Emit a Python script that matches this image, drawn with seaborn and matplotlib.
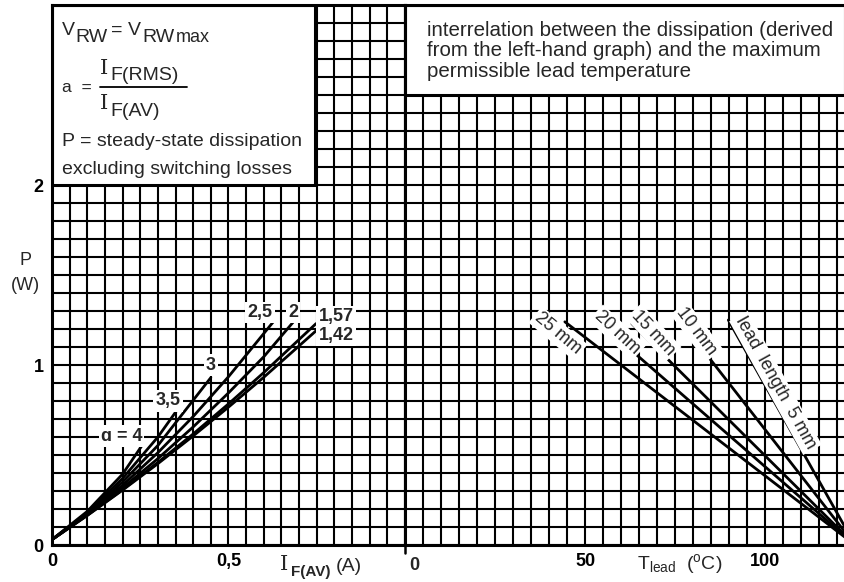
import matplotlib
matplotlib.use('Agg')
import matplotlib.pyplot as plt
import numpy as np
import pandas as pd
import seaborn as sns
from matplotlib.patches import Rectangle
from matplotlib.ticker import MultipleLocator

# left-hand graph: P (W) against I_F(AV) (A) for several form factors a
a_labels = ['1,42', '1,57', '2', '2,5', '3', '3,5', '4']
i_142 = [0.0, 0.1, 0.2, 0.3, 0.4, 0.5, 0.6, 0.748]
p_142 = [0.03, 0.164, 0.305, 0.452, 0.606, 0.766, 0.932, 1.19]
i_157 = [0.0, 0.1, 0.2, 0.3, 0.4, 0.5, 0.6, 0.748]
p_157 = [0.03, 0.165, 0.308, 0.459, 0.617, 0.784, 0.958, 1.23]
i_2 = [0.0, 0.1, 0.2, 0.3, 0.4, 0.5, 0.6, 0.684]
p_2 = [0.03, 0.167, 0.318, 0.48, 0.656, 0.845, 1.046, 1.24]
i_25 = [0.0, 0.1, 0.2, 0.3, 0.4, 0.5, 0.627]
p_25 = [0.03, 0.171, 0.332, 0.513, 0.714, 0.935, 1.24]
i_3 = [0.0, 0.1, 0.2, 0.3, 0.45]
p_3 = [0.03, 0.175, 0.35, 0.553, 0.93]
i_35 = [0.0, 0.1, 0.2, 0.3, 0.358]
p_35 = [0.03, 0.18, 0.37, 0.6, 0.76]
i_4 = [0.0, 0.1, 0.2, 0.254]
p_4 = [0.03, 0.187, 0.394, 0.55]

# right-hand graph: P (W) against T_lead for several lead lengths
lead_labels = ['lead  length  5 mm', '10 mm', '15 mm', '20 mm', '25 mm']
t_start = [89.8, 75.5, 63.0, 53.2, 44.4]
p_start = [1.25, 1.27, 1.23, 1.25, 1.24]
t_end = [125, 125, 125, 125, 125]
p_end = [0.0, 0.0, 0.0, 0.0, 0.0]

left_df = pd.concat([
    pd.DataFrame({'I': i, 'P': p, 'a': lab})
    for lab, i, p in zip(a_labels,
                         [i_142, i_157, i_2, i_25, i_3, i_35, i_4],
                         [p_142, p_157, p_2, p_25, p_3, p_35, p_4])
])
right_df = pd.concat([
    pd.DataFrame({'T': [t0, t1], 'P': [p0, p1], 'lead': lab})
    for lab, t0, p0, t1, p1 in zip(lead_labels, t_start, p_start, t_end, p_end)
])

sns.set_theme(style='white')
plt.rcParams['font.family'] = ['Liberation Sans', 'DejaVu Sans']
plt.rcParams['mathtext.fontset'] = 'custom'
plt.rcParams['mathtext.rm'] = 'Liberation Sans'
plt.rcParams['mathtext.it'] = 'Liberation Sans:italic'
plt.rcParams['mathtext.tt'] = 'DejaVu Sans Mono'

W, H = 845, 582
fig = plt.figure(figsize=(W / 100, H / 100), dpi=100)
axl = fig.add_axes([52 / W, 37 / H, 353 / W, 540 / H])
axr = fig.add_axes([405 / W, 37 / H, 440 / W, 540 / H])

sns.lineplot(data=left_df, x='I', y='P', hue='a', palette=['black'] * 7,
             legend=False, sort=False, estimator=None, ax=axl, lw=2.0, zorder=3)
sns.lineplot(data=right_df, x='T', y='P', hue='lead', palette=['black'] * 5,
             legend=False, sort=False, estimator=None, ax=axr, lw=2.0, zorder=3)

for ax, xmax, step in [(axl, 1.0, 0.05), (axr, 122.2, 5)]:
    ax.set_xlim(0, xmax)
    ax.set_ylim(0, 3.0)
    ax.xaxis.set_minor_locator(MultipleLocator(step))
    ax.yaxis.set_minor_locator(MultipleLocator(0.1))
    ax.grid(True, which='both', color='black', lw=1.5)
    ax.set_axisbelow(True)
    ax.tick_params(which='both', length=0, labelsize=13, colors='black')
    ax.set_xlabel('')
    ax.set_ylabel('')
    for s in ax.spines.values():
        s.set_color('black')
        s.set_linewidth(2.2)
axr.spines['right'].set_visible(False)

axl.set_xticks([0, 0.5])
axl.set_xticklabels(['0', '0,5'], fontweight='bold')
axl.set_yticks([0, 1, 2])
axl.set_yticklabels(['0', '1', '2'], fontweight='bold')
axl.tick_params(axis='both', pad=6)

axr.set_xticks([0, 50, 100])
axr.set_xticklabels(['', '50', '100'], fontweight='bold')
axr.tick_params(axis='x', pad=6)
axr.set_yticks([0, 1, 2])
axr.set_yticklabels([])
axr.annotate('0', xy=(0, 0), xycoords=('data', 'axes fraction'), xytext=(7, -15),
             textcoords='offset points', ha='center', va='center', fontsize=13,
             fontweight='bold')
axr.plot([0, 0], [0, -0.015], transform=axr.get_xaxis_transform(), color='black',
         lw=1.8, clip_on=False)

# text boxes
axl.add_patch(Rectangle((0, 2.0), 0.745, 1.0, facecolor='white', edgecolor='black',
                        lw=2.2, zorder=2))
axr.add_patch(Rectangle((0, 2.5), 122.2, 0.5, facecolor='white', edgecolor='black',
                        lw=2.2, zorder=2))

txt = dict(fontsize=14, va='center', ha='left', zorder=4)
# V_RW = V_RW max
axl.text(0.028, 2.861, 'V', **txt)
axl.text(0.066, 2.818, 'RW', **txt)
axl.text(0.168, 2.861, '=', **txt)
axl.text(0.215, 2.861, 'V', **txt)
axl.text(0.255, 2.818, 'RW', **txt)
axl.text(0.352, 2.822, 'max', fontsize=13, va='center', ha='left', zorder=4)
# a = I_F(RMS) / I_F(AV)
axl.text(0.028, 2.539, 'a  =', fontsize=12.5, va='center', ha='left', zorder=4)
axl.text(0.136, 2.648, 'I', fontsize=15, family='DejaVu Serif', va='center',
         ha='left', zorder=4)
axl.text(0.166, 2.608, 'F(RMS)', **txt)
axl.plot([0.136, 0.382], [2.543, 2.543], color='black', lw=1.3, zorder=4)
axl.text(0.136, 2.45, 'I', fontsize=15, family='DejaVu Serif', va='center',
         ha='left', zorder=4)
axl.text(0.166, 2.41, 'F(AV)', **txt)
# P definition
axl.text(0.028, 2.24, 'P = steady-state dissipation', **txt)
axl.text(0.028, 2.084, 'excluding switching losses', **txt)

axr.text(6.2, 2.745, 'interrelation between the dissipation (derived\n'
         'from the left-hand graph) and the maximum\n'
         'permissible lead temperature',
         fontsize=14.8, va='center', ha='left', linespacing=1.12, zorder=4)

# axis labels
axl.text(-0.075, 1.58, 'P', fontsize=13, ha='center', va='center')
axl.text(-0.075, 1.44, '(W)', fontsize=13, ha='center', va='center')
axl.text(0.645, -0.037, 'I', fontsize=15, family='DejaVu Serif', ha='left',
         va='center', transform=axl.get_xaxis_transform())
axl.text(0.678, -0.05, 'F(AV)', fontsize=11, fontweight='bold', ha='left',
         va='center', transform=axl.get_xaxis_transform())
axl.text(0.805, -0.04, '(A)', fontsize=14, ha='left', va='center',
         transform=axl.get_xaxis_transform())
axr.text(64.5, -0.035, r'$\mathregular{T_{lead}}$  ($\mathregular{^{o}}$C)', fontsize=14,
         ha='left', va='center', transform=axr.get_xaxis_transform())

# curve labels
box = dict(facecolor='white', edgecolor='none', pad=1.5)
left_lab_x = [0.805, 0.805, 0.683, 0.589, 0.45, 0.329, 0.197]
left_lab_y = [1.165, 1.27, 1.29, 1.29, 1.0, 0.8, 0.605]
left_lab_txt = ['1,42', '1,57', '2', '2,5', '3', '3,5', '\u0251 = 4']
for x, y, t in zip(left_lab_x, left_lab_y, left_lab_txt):
    axl.text(x, y, t, fontsize=13, fontweight='bold', ha='center', va='center',
             bbox=box, zorder=5)

right_lab_x = [102.9, 81.0, 69.0, 59.0, 42.5]
right_lab_y = [0.9, 1.185, 1.18, 1.18, 1.175]
right_lab_rot = [-61, -53, -47, -43, -40]
for x, y, r, t in zip(right_lab_x, right_lab_y, right_lab_rot, lead_labels):
    axr.text(x, y, t, fontsize=13, ha='center', va='center', rotation=r,
             rotation_mode='anchor', bbox=box, zorder=5)

fig.savefig('out.png', dpi=100)
